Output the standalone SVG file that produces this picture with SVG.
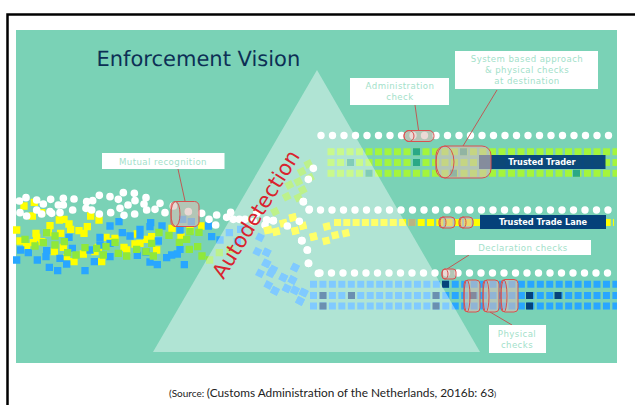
<svg xmlns="http://www.w3.org/2000/svg" width="635" height="405" viewBox="0 0 635 405">
<style>
text{font-family:"DejaVu Sans","Liberation Sans",sans-serif}
.lbl{fill:#fff}
.lt{font-size:8.6px;letter-spacing:.42px;fill:#a3dfca;text-anchor:middle}
.bar{fill:#05427a}
.bt{font-size:8.2px;font-weight:bold;fill:#fff;text-anchor:middle}
.cyl{fill:#dcbdb6;fill-opacity:.58;stroke:#d8514f;stroke-width:1}
.cap{fill:none;stroke:#d8514f;stroke-width:1}
.lead{stroke:#bf5a55;stroke-width:1;fill:none}
.dots{fill:none;stroke:#fff;stroke-linecap:round;stroke-width:7.400;stroke-dasharray:0 11.5}
.sc{fill:none;stroke-linecap:square;stroke-width:22}
.rot{fill:none;stroke-width:22}
.row{fill:none;stroke-width:7}
.w{fill:none;stroke:#fff;stroke-linecap:round;stroke-width:23}
.g{stroke:#a4f53c}.y{stroke:#ffff00}.b{stroke:#28a6ff}
.cell{fill:none;stroke-width:7}
</style>
<rect width="635" height="405" fill="#fff"/>
<path d="M7.500 405V14.500H635" fill="none" stroke="#000" stroke-width="2.500"/>
<rect x="16" y="30" width="601" height="333" fill="#7ad2b6"/>
<text x="96.500" y="66" font-size="21" text-rendering="geometricPrecision" fill="#0c2f55">Enforcement Vision</text>

<g id="flows">
<path class="row g" stroke-dasharray="7 2.5" d="M327.500 151.700H617M327.500 162.500H617M327.500 173.200H617"/>
<path class="row y" stroke-dasharray="7 2.3" d="M334 222.500H614"/>
<path class="row b" stroke-dasharray="7 2.45" d="M310 284.300H617M310 295.500H617M310 306H617"/>
<path class="cell" stroke="#2aa886" d="M413 151.700h7M413 162.500h7M347 162.500h7M365.500 173.200h7M573 173.200h7M460 151.700h7M450 173.200h7"/>
<path class="cell" stroke="#b9b382" d="M408.500 222.500h7"/>
<path class="cell" stroke="#05427a" d="M442 284.300h7M319.500 295.500h7M348 295.500h7M432.500 295.500h7M469.500 295.500h7M526 295.500h7M554.500 295.500h7M319.500 306h7M432.500 306h7M526 306h7"/>

<g transform="translate(0 130) scale(.33333)">
<path class="sc y" d="M72 228h0M103 217h0M125 248h0M97 258h0M50 300h0M178 270h0M192 268h0M150 287h0M207 282h0M212 298h0M237 302h0M262 290h0M252 310h0M272 258h0M297 270h0M108 310h0M110 322h0M145 308h0M182 310h0M60 333h0M80 350h0M100 338h0M125 335h0M163 365h0M190 352h0M200 383h0M222 395h0M250 372h0M285 365h0M295 352h0M305 395h0M318 322h0M345 325h0M330 335h0M372 352h0M380 360h0M405 342h0M420 340h0M440 328h0M455 320h0M412 312h0M470 360h0M516 295h0M543 320h0M605 288h0M570 300h0"/>
<path class="sc b" d="M62 360h0M85 368h0M50 390h0M112 390h0M140 362h0M138 380h0M148 412h0M173 422h0M180 385h0M200 402h0M207 322h0M217 355h0M255 422h0M270 360h0M283 395h0M300 322h0M330 288h0M357 275h0M367 308h0M330 380h0M390 318h0M420 298h0M420 315h0M452 278h0M450 290h0M412 376h0M438 366h0M450 396h0M472 404h0M486 288h0M475 333h0M500 383h0M515 375h0M532 372h0M540 358h0M553 404h0M540 300h0M625 288h0M635 320h0M548 268h0M574 275h0M330 340h0M300 345h0M660 330h0M688 308h0M722 298h0M712 335h0"/>
<path class="sc" stroke="#8fe83a" d="M75 328h0M105 348h0M130 338h0M140 308h0M165 318h0M193 335h0M165 345h0M203 368h0M228 375h0M255 353h0M290 355h0M310 375h0M318 350h0M345 337h0M355 370h0M380 378h0M410 358h0M438 365h0M460 378h0M455 340h0M477 307h0M507 316h0M538 337h0M560 328h0M597 307h0M570 305h0M568 358h0M593 350h0M606 378h0M629 390h0M658 368h0M690 358h0"/>
<g transform="translate(-10 -5)"><path class="rot b" d="M780 322l20 10M772 365l20 10M800 367l20 10M798 400l20 10M820 418l20 10M812 430l20 10M780 430l20 10M850 443l20 10M878 450l20 10M885 412l20 10M805 465l20 10M825 483l20 10M860 475l20 10M885 482l20 10M910 487l20 10M900 513l20 10"/></g>
<g transform="translate(-10 5)"><path class="rot" stroke="#8fe83a" d="M825 245l20 -10M860 200l20 -10M868 165l20 -10M895 155l20 -10M905 125l20 -10M925 102l20 -10M930 143l20 -10M908 180l20 -10M895 203l20 -10"/>
<path class="rot y" d="M805 297l21 -5M828 303l21 -5M850 277l21 -5M878 260l21 -5M885 300l21 -5M908 285l21 -5M940 318l21 -5"/></g>
<path class="w" d="M58 213h0M78 203h0M110 210h0M130 222h0M152 208h0M150 245h0M175 225h0M190 205h0M222 207h0M218 240h0M260 215h0M258 235h0M278 212h0M298 196h0M275 240h0M298 252h0M330 200h0M332 248h0M355 208h0M370 188h0M360 235h0M384 225h0M403 190h0M405 212h0M404 252h0M372 256h0M438 203h0M432 222h0M440 240h0M465 238h0M480 220h0M495 248h0M520 228h0M60 248h0M80 258h0M110 240h0M125 252h0M155 250h0M180 248h0M190 225h0M565 245h0M605 250h0M627 268h0M650 255h0M647 285h0M680 262h0M692 247h0M700 268h0M718 268h0M735 268h0M770 250h0M760 275h0M800 270h0M820 272h0M795 285h0"/>
</g>
<g transform="translate(260 200) scale(.33333)">
<g transform="translate(-10 5)"><path class="rot y" d="M22 88l21 -5M48 92l21 -5M70 67l21 -5M98 50l21 -5M105 90l21 -5M128 75l21 -5M160 107l21 -5M198 120l21 -5M225 103l21 -5M257 97l21 -5M200 77l21 -5"/></g>
<g transform="translate(-10 -5)"><path class="rot b" d="M20 157l20 10M20 190l20 10M35 215l20 10M70 232l20 10M97 240l20 10M105 203l20 10M80 265l20 10M105 270l20 10M132 278l20 10M120 303l20 10M45 272l20 10"/></g>
</g>
</g>

<path id="triangle" d="M317 70L480 352H153Z" fill="#fff" fill-opacity=".41"/>
<g id="dots">
<path class="dots" d="M321 135.500H612M309 210H612M320 273H617"/>
<g transform="translate(0 130) scale(.33333)"><path class="w" d="M940 115h0M925 148h0M910 215h0M928 238h0M905 332h0M922 360h0M925 400h0M955 430h0"/></g>
<g transform="translate(260 200) scale(.33333)"><path class="w" d="M40 62h0M20 60h0M82 78h0M118 64h0M126 122h0M142 150h0M146 190h0M130 5h0"/></g>
</g>
<text id="autodetection" transform="translate(262 218) rotate(-58.300)" font-size="20.800" fill="#d9232e" text-anchor="middle">Autodetection</text>

<g id="connectors">
<path class="lead" d="M178 169L185 201M415 105L418.500 130M497 90L463 146M469 255L447 269M490 312L512 325"/>
</g>

<g id="check-mutual"><rect class="cyl" x="171" y="201.500" width="28" height="25" rx="4.500"/><ellipse class="cap" cx="175.500" cy="214" rx="4.500" ry="12.500"/></g>
<g id="check-admin"><rect class="cyl" x="404" y="130.500" width="30" height="11" rx="5"/><ellipse class="cap" cx="409" cy="136" rx="5" ry="5.500"/></g>
<g id="trusted-trader"><rect class="bar" x="479" y="155" width="126.500" height="14" fill-opacity=".96"/><text class="bt" x="542" y="165">Trusted Trader</text></g>
<g id="check-system"><rect class="cyl" x="436" y="146" width="55" height="32" rx="9"/><ellipse class="cap" cx="445" cy="162" rx="9" ry="16"/></g>
<g id="check-lane1"><rect class="cyl" x="439" y="217" width="16" height="11" rx="4"/><ellipse class="cap" cx="443" cy="222.500" rx="3" ry="5.500"/></g>
<g id="check-lane2"><rect class="cyl" x="459" y="217" width="14" height="11" rx="4"/><ellipse class="cap" cx="463" cy="222.500" rx="3" ry="5.500"/></g>
<g id="trusted-lane"><rect class="bar" x="480" y="215" width="126" height="14"/><text class="bt" x="543" y="225">Trusted Trade Lane</text></g>
<g id="check-declaration"><rect class="cyl" x="442" y="269" width="14" height="10" rx="3"/><ellipse class="cap" cx="445" cy="274" rx="3" ry="5"/></g>
<g id="check-physical1"><rect class="cyl" x="464" y="280" width="16" height="32" rx="4"/><ellipse class="cap" cx="467" cy="296" rx="3" ry="16"/></g>
<g id="check-physical2"><rect class="cyl" x="483" y="280" width="16" height="32" rx="4"/><ellipse class="cap" cx="486" cy="296" rx="3" ry="16"/></g>
<g id="check-physical3"><rect class="cyl" x="501" y="279.500" width="17" height="32.500" rx="4"/><ellipse class="cap" cx="504" cy="296" rx="3" ry="16"/></g>

<g id="label-mutual"><rect class="lbl" x="102" y="153" width="122.500" height="16"/><text class="lt" x="163" y="164.500">Mutual recognition</text></g>
<g id="label-admin"><rect class="lbl" x="350" y="78" width="99" height="27"/><text class="lt" x="400" y="89">Administration</text><text class="lt" x="400" y="100">check</text></g>
<g id="label-system"><rect class="lbl" x="455" y="51" width="143" height="38"/><text class="lt" x="527" y="62">System based approach</text><text class="lt" x="527" y="73">&amp; physical checks</text><text class="lt" x="527" y="84">at destination</text></g>
<g id="label-declaration"><rect class="lbl" x="455" y="240" width="136" height="15"/><text class="lt" x="523" y="251">Declaration checks</text></g>
<g id="label-physical"><rect class="lbl" x="489" y="325" width="57" height="28"/><text class="lt" x="517" y="337">Physical</text><text class="lt" x="517" y="348">checks</text></g>

<text x="169" y="396.500" font-size="11.850" fill="#222" style="font-family:Lato,'Open Sans',sans-serif"><tspan font-size="10">(Source: </tspan>(Customs Administration of the Netherlands, 2016b: 63<tspan font-size="8">)</tspan></text>
</svg>
